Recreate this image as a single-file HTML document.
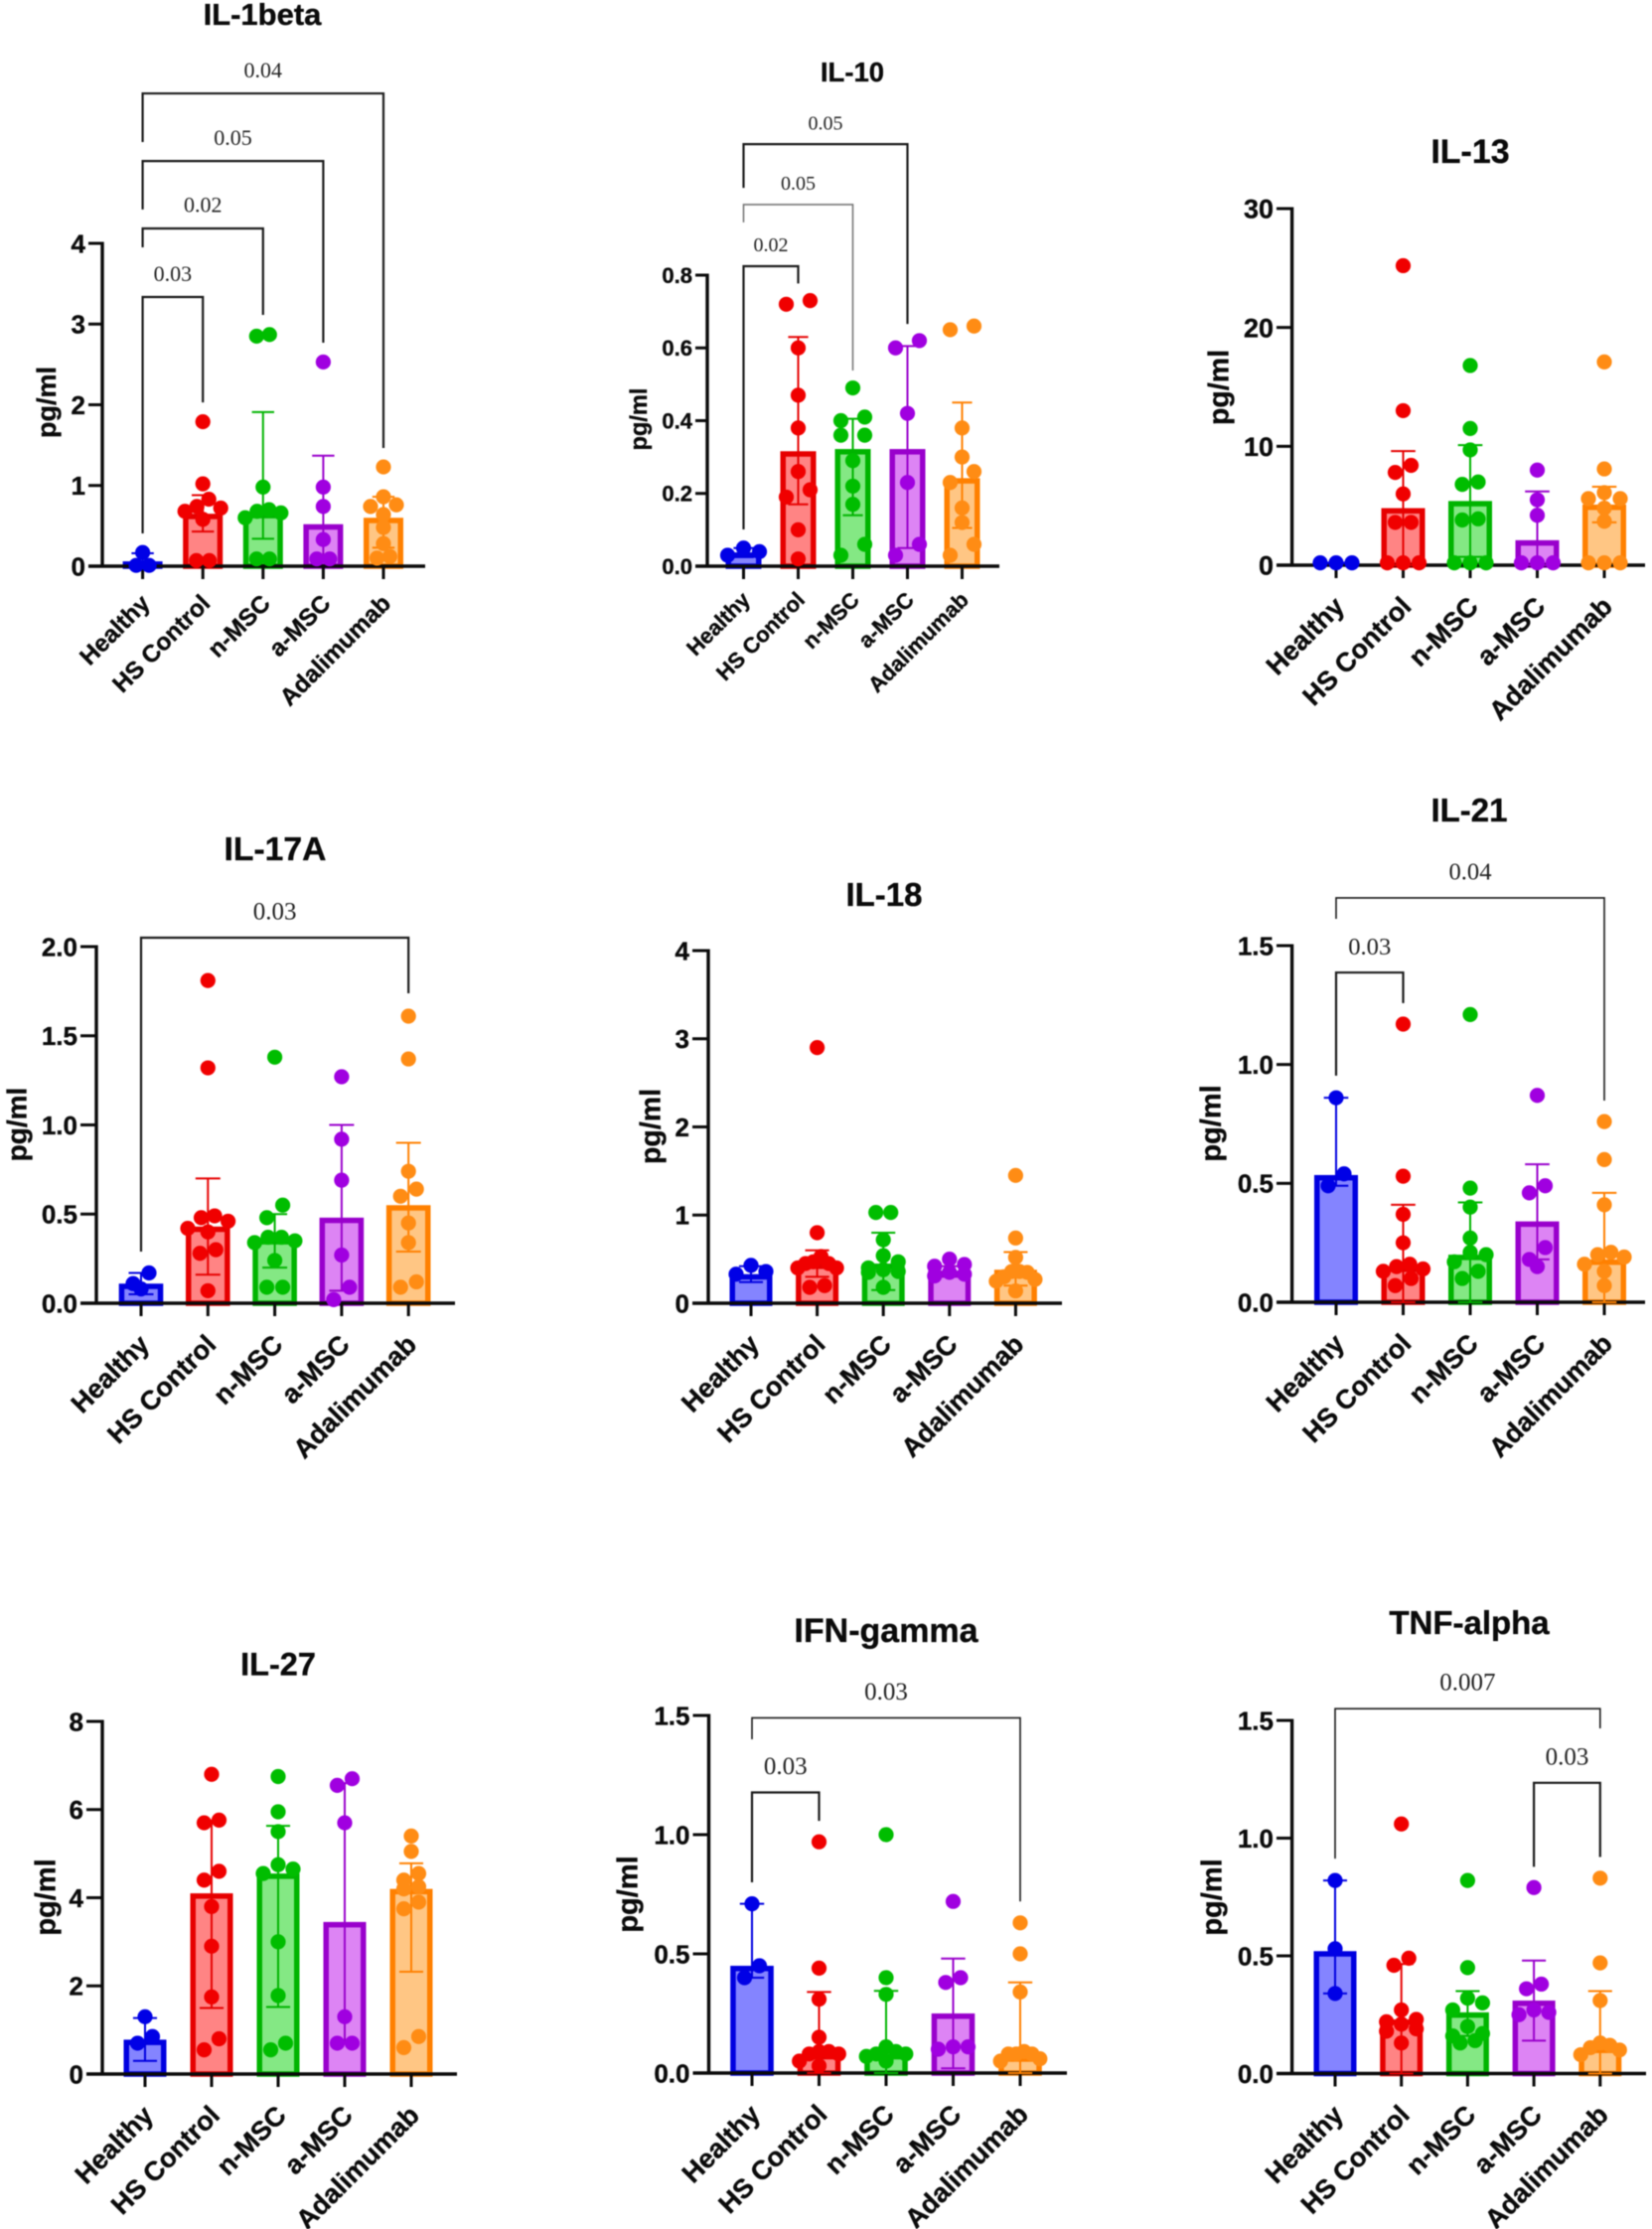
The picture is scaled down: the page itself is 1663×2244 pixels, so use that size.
<!DOCTYPE html>
<html lang="en">
<head>
<meta charset="utf-8">
<title>Cytokine levels by treatment group</title>
<style>
html,body{margin:0;padding:0;background:#fff;}
body{width:1663px;height:2244px;overflow:hidden;}
svg{display:block;filter:blur(0.45px);}
text{font-family:"Liberation Sans",sans-serif;font-weight:bold;fill:#0a0a0a;stroke:#0a0a0a;stroke-width:0.35px;}
text.p{font-family:"Liberation Serif",serif;font-weight:normal;fill:#222;stroke:none;}
</style>
</head>
<body>
<svg id="figure" xmlns="http://www.w3.org/2000/svg" width="1663" height="2244" viewBox="0 0 1663 2244"></svg>
<script>
// ---------- shared categories ----------
const categories = ['Healthy', 'HS Control', 'n-MSC', 'a-MSC', 'Adalimumab'];

// ---------- IL-1beta ----------
const il1betaTicks = ['0', '1', '2', '3', '4'];
const il1betaMeans = [0.06, 0.65, 0.66, 0.52, 0.6];
const il1betaErrLow = [0, 0.43, 0.34, 0.08, 0.23];
const il1betaErrHigh = [0.16, 0.88, 1.91, 1.37, 0.86];
const il1betaHealthy = [0.17, 0.01, 0.01];
const il1betaHs = [1.79, 1.02, 0.83, 0.74, 0.72, 0.68, 0.58, 0.07, 0.07];
const il1betaN = [2.87, 2.85, 0.98, 0.7, 0.68, 0.66, 0.6, 0.09, 0.09];
const il1betaA = [2.53, 0.98, 0.74, 0.33, 0.09, 0.09];
const il1betaAda = [1.23, 0.86, 0.76, 0.74, 0.64, 0.48, 0.28, 0.12, 0.1];
const il1betaBrackets = [
  {from: 0, to: 1, top: 3.335, leftEnd: 0.406, rightEnd: 2.03, p: '0.03'},
  {from: 0, to: 2, top: 4.185, leftEnd: 3.951, rightEnd: 3.114, p: '0.02'},
  {from: 0, to: 3, top: 5.02, leftEnd: 4.42, rightEnd: 2.77, p: '0.05'},
  {from: 0, to: 4, top: 5.858, leftEnd: 5.255, rightEnd: 1.465, p: '0.04'}
];

// ---------- IL-10 ----------
const il10Ticks = ['0.0', '0.2', '0.4', '0.6', '0.8'];
const il10Means = [0.038, 0.316, 0.322, 0.322, 0.242];
const il10ErrLow = [0.025, 0.17, 0.14, 0.05, 0.105];
const il10ErrHigh = [0.05, 0.63, 0.405, 0.605, 0.45];
const il10Healthy = [0.05, 0.04, 0.03];
const il10Hs = [0.73, 0.72, 0.6, 0.47, 0.38, 0.26, 0.21, 0.19, 0.1, 0.02];
const il10N = [0.49, 0.41, 0.4, 0.36, 0.36, 0.29, 0.22, 0.17, 0.06, 0.03];
const il10A = [0.62, 0.6, 0.42, 0.23, 0.06, 0.03];
const il10Ada = [0.66, 0.65, 0.38, 0.3, 0.26, 0.23, 0.16, 0.12, 0.06, 0.03];
const il10Brackets = [
  {from: 0, to: 1, top: 0.8246, leftEnd: 0.101, rightEnd: 0.777, p: '0.02'},
  {from: 0, to: 2, top: 0.994, leftEnd: 0.945, rightEnd: 0.538, p: '0.05', light: true},
  {from: 0, to: 3, top: 1.16, leftEnd: 1.04, rightEnd: 0.666, p: '0.05'}
];

// ---------- IL-13 ----------
const il13Ticks = ['0', '10', '20', '30'];
const il13Means = [0.2, 4.8, 5.4, 2.1, 5.1];
const il13ErrLow = [0.2, 0, 0.7, 0, 3.6];
const il13ErrHigh = [0.2, 9.6, 10.1, 6.2, 6.6];
const il13Healthy = [0.2, 0.2, 0.2];
const il13Hs = [25.2, 13, 8.4, 7.8, 6, 3.6, 3.6, 0.2, 0.2, 0.2];
const il13N = [16.8, 11.5, 9.7, 7, 6.8, 3.9, 3.8, 0.2, 0.2, 0.2];
const il13A = [8, 5.5, 4.2, 0.2, 0.2, 0.2];
const il13Ada = [17.1, 8.1, 6.1, 5.6, 5.6, 4.8, 3.7, 0.2, 0.2, 0.2];
const il13Brackets = [];

// ---------- IL-17A ----------
const il17aTicks = ['0.0', '0.5', '1.0', '1.5', '2.0'];
const il17aMeans = [0.11, 0.43, 0.36, 0.48, 0.55];
const il17aErrLow = [0.05, 0.16, 0.2, 0.07, 0.29];
const il17aErrHigh = [0.17, 0.7, 0.5, 1, 0.9];
const il17aHealthy = [0.17, 0.11, 0.08];
const il17aHs = [1.81, 1.32, 0.49, 0.48, 0.46, 0.42, 0.4, 0.3, 0.28, 0.07];
const il17aN = [1.38, 0.55, 0.48, 0.37, 0.37, 0.35, 0.34, 0.24, 0.09, 0.09];
const il17aA = [1.27, 0.92, 0.69, 0.27, 0.09, 0.02];
const il17aAda = [1.61, 1.37, 0.74, 0.64, 0.6, 0.45, 0.34, 0.12, 0.09];
const il17aBrackets = [
  {from: 0, to: 4, top: 2.05, leftEnd: 0.29, rightEnd: 1.738, p: '0.03'}
];

// ---------- IL-18 ----------
const il18Ticks = ['0', '1', '2', '3', '4'];
const il18Means = [0.33, 0.45, 0.45, 0.37, 0.38];
const il18ErrLow = [0.24, 0.3, 0.15, 0.3, 0.2];
const il18ErrHigh = [0.42, 0.6, 0.8, 0.42, 0.58];
const il18Healthy = [0.43, 0.36, 0.33];
const il18Hs = [2.9, 0.8, 0.53, 0.47, 0.45, 0.45, 0.4, 0.4, 0.2, 0.18];
const il18N = [1.03, 1.03, 0.72, 0.54, 0.47, 0.4, 0.38, 0.36, 0.35, 0.18];
const il18A = [0.5, 0.44, 0.42, 0.35, 0.33, 0.31];
const il18Ada = [1.45, 0.74, 0.52, 0.36, 0.36, 0.35, 0.3, 0.27, 0.25, 0.14];
const il18Brackets = [];

// ---------- IL-21 ----------
const il21Ticks = ['0.0', '0.5', '1.0', '1.5'];
const il21Means = [0.535, 0.15, 0.2, 0.34, 0.18];
const il21ErrLow = [0.49, 0, 0, 0.18, 0];
const il21ErrHigh = [0.86, 0.41, 0.42, 0.58, 0.46];
const il21Healthy = [0.86, 0.54, 0.49];
const il21Hs = [1.17, 0.53, 0.37, 0.25, 0.16, 0.15, 0.14, 0.13, 0.1, 0.07];
const il21N = [1.21, 0.48, 0.4, 0.27, 0.21, 0.2, 0.17, 0.13, 0.1];
const il21A = [0.87, 0.49, 0.46, 0.23, 0.18, 0.15];
const il21Ada = [0.76, 0.6, 0.41, 0.21, 0.2, 0.19, 0.16, 0.13, 0.07];
const il21Brackets = [
  {from: 0, to: 1, top: 1.387, leftEnd: 0.953, rightEnd: 1.258, p: '0.03'},
  {from: 0, to: 4, top: 1.701, leftEnd: 1.613, rightEnd: 0.848, p: '0.04', thin: true}
];

// ---------- IL-27 ----------
const il27Ticks = ['0', '2', '4', '6', '8'];
const il27Means = [0.78, 4.1, 4.55, 3.45, 4.2];
const il27ErrLow = [0.3, 1.5, 1.52, 0.7, 2.32];
const il27ErrHigh = [1.27, 5.75, 5.63, 6.6, 4.78];
const il27Healthy = [1.3, 0.85, 0.7];
const il27Hs = [6.8, 5.76, 5.7, 4.6, 4.4, 3.8, 2.9, 1.75, 0.8, 0.55];
const il27N = [6.75, 5.95, 5.5, 4.75, 4.65, 4.55, 3, 1.78, 0.7, 0.55];
const il27A = [6.7, 6.55, 5.7, 1.3, 0.7, 0.7];
const il27Ada = [5.4, 5.05, 4.55, 4.4, 4.25, 4.2, 3.9, 3.75, 0.85, 0.6];
const il27Brackets = [];

// ---------- IFN-gamma ----------
const ifnTicks = ['0.0', '0.5', '1.0', '1.5'];
const ifnMeans = [0.45, 0.08, 0.08, 0.25, 0.07];
const ifnErrLow = [0.4, 0, 0, 0.02, 0];
const ifnErrHigh = [0.71, 0.34, 0.345, 0.48, 0.38];
const ifnHealthy = [0.71, 0.45, 0.4];
const ifnHs = [0.97, 0.44, 0.31, 0.15, 0.09, 0.09, 0.08, 0.08, 0.05, 0.03];
const ifnN = [1, 0.4, 0.33, 0.11, 0.09, 0.08, 0.08, 0.07, 0.05];
const ifnA = [0.72, 0.4, 0.38, 0.11, 0.11, 0.1];
const ifnAda = [0.63, 0.5, 0.34, 0.09, 0.08, 0.08, 0.08, 0.06, 0.05];
const ifnBrackets = [
  {from: 0, to: 1, top: 1.177, leftEnd: 0.8, rightEnd: 1.058, p: '0.03'},
  {from: 0, to: 4, top: 1.49, leftEnd: 1.4, rightEnd: 0.72, p: '0.03', thin: true}
];

// ---------- TNF-alpha ----------
const tnfTicks = ['0.0', '0.5', '1.0', '1.5'];
const tnfMeans = [0.52, 0.23, 0.26, 0.31, 0.11];
const tnfErrLow = [0.34, 0, 0.16, 0.14, 0];
const tnfErrHigh = [0.82, 0.465, 0.35, 0.48, 0.35];
const tnfHealthy = [0.82, 0.53, 0.34];
const tnfHs = [1.06, 0.49, 0.46, 0.27, 0.23, 0.22, 0.21, 0.19, 0.18, 0.13];
const tnfN = [0.82, 0.45, 0.32, 0.3, 0.27, 0.2, 0.17, 0.16, 0.14, 0.13];
const tnfA = [0.79, 0.38, 0.36, 0.27, 0.26, 0.25];
const tnfAda = [0.83, 0.47, 0.31, 0.13, 0.12, 0.11, 0.1, 0.08];
const tnfBrackets = [
  {from: 0, to: 4, top: 1.55, leftEnd: 0.913, rightEnd: 1.466, p: '0.007', thin: true},
  {from: 3, to: 4, top: 1.235, leftEnd: 0.878, rightEnd: 0.92, p: '0.03'}
];

// ---------- styling per category ----------
const strokeColors = ['#0000e0', '#e60000', '#00b400', '#9900cc', '#ff8000'];
const fillColors = ['#8484ff', '#ff8484', '#84e884', '#dd84f4', '#ffc684'];
const dotColors = ['#0000e6', '#f00000', '#00bd00', '#a000e0', '#ff8c14'];

// ---------- panels: data references + placement on the page ----------
const panels = [
  {slug: 'il-1beta', title: 'IL-1beta', ticks: il1betaTicks, means: il1betaMeans, low: il1betaErrLow, high: il1betaErrHigh,
   points: [il1betaHealthy, il1betaHs, il1betaN, il1betaA, il1betaAda], brackets: il1betaBrackets,
   axisX: 103, top: 245, base: 570, first: 143.6, step: 60.6, barW: 40, right: 428, tickLeft: 89,
   titleX: 264, titleY: 14, titleSize: 31, yLabelX: 48, yLabelY: 405, yLabelSize: 27, tickSize: 26, xSize: 24.3, pSize: 22, spread: 13},
  {slug: 'il-10', title: 'IL-10', ticks: il10Ticks, means: il10Means, low: il10ErrLow, high: il10ErrHigh,
   points: [il10Healthy, il10Hs, il10N, il10A, il10Ada], brackets: il10Brackets,
   axisX: 712, top: 277, base: 570, first: 748.5, step: 55, barW: 36, right: 1006, tickLeft: 700,
   titleX: 858, titleY: 72, titleSize: 27.5, yLabelX: 644, yLabelY: 422, yLabelSize: 23.6, tickSize: 22, xSize: 22, pSize: 20, spread: 24},
  {slug: 'il-13', title: 'IL-13', ticks: il13Ticks, means: il13Means, low: il13ErrLow, high: il13ErrHigh,
   points: [il13Healthy, il13Hs, il13N, il13A, il13Ada], brackets: il13Brackets,
   axisX: 1300.6, top: 210, base: 569, first: 1345, step: 67.5, barW: 44, right: 1656, tickLeft: 1285,
   titleX: 1480, titleY: 152, titleSize: 34, yLabelX: 1228, yLabelY: 390, yLabelSize: 28.5, tickSize: 27, xSize: 27, pSize: 25, spread: 16},
  {slug: 'il-17a', title: 'IL-17A', ticks: il17aTicks, means: il17aMeans, low: il17aErrLow, high: il17aErrHigh,
   points: [il17aHealthy, il17aHs, il17aN, il17aA, il17aAda], brackets: il17aBrackets,
   axisX: 97, top: 953, base: 1312, first: 142, step: 67.3, barW: 44.6, right: 458, tickLeft: 81,
   titleX: 277, titleY: 854, titleSize: 33.7, yLabelX: 18, yLabelY: 1132, yLabelSize: 28, tickSize: 26, xSize: 27, pSize: 25, spread: 16},
  {slug: 'il-18', title: 'IL-18', ticks: il18Ticks, means: il18Means, low: il18ErrLow, high: il18ErrHigh,
   points: [il18Healthy, il18Hs, il18N, il18A, il18Ada], brackets: il18Brackets,
   axisX: 713, top: 957, base: 1312, first: 756, step: 66.6, barW: 43, right: 1069, tickLeft: 697,
   titleX: 890, titleY: 900, titleSize: 33, yLabelX: 656, yLabelY: 1134, yLabelSize: 28.5, tickSize: 26, xSize: 26.8, pSize: 25, spread: 15},
  {slug: 'il-21', title: 'IL-21', ticks: il21Ticks, means: il21Means, low: il21ErrLow, high: il21ErrHigh,
   points: [il21Healthy, il21Hs, il21N, il21A, il21Ada], brackets: il21Brackets,
   axisX: 1300.6, top: 952, base: 1311, first: 1345, step: 67.5, barW: 44, right: 1656, tickLeft: 1285,
   titleX: 1479, titleY: 815, titleSize: 33, yLabelX: 1220, yLabelY: 1131, yLabelSize: 29, tickSize: 26, xSize: 27, pSize: 24.6, spread: 16},
  {slug: 'il-27', title: 'IL-27', ticks: il27Ticks, means: il27Means, low: il27ErrLow, high: il27ErrHigh,
   points: [il27Healthy, il27Hs, il27N, il27A, il27Ada], brackets: il27Brackets,
   axisX: 103, top: 1733, base: 2088, first: 146, step: 67, barW: 43, right: 460, tickLeft: 87,
   titleX: 280, titleY: 1675, titleSize: 32.5, yLabelX: 47, yLabelY: 1910, yLabelSize: 29, tickSize: 26, xSize: 27, pSize: 25, spread: 15},
  {slug: 'ifn-gamma', title: 'IFN-gamma', ticks: ifnTicks, means: ifnMeans, low: ifnErrLow, high: ifnErrHigh,
   points: [ifnHealthy, ifnHs, ifnN, ifnA, ifnAda], brackets: ifnBrackets,
   axisX: 713.5, top: 1727, base: 2087, first: 757, step: 67.5, barW: 43.6, right: 1074, tickLeft: 697.5,
   titleX: 892, titleY: 1641, titleSize: 34, yLabelX: 633, yLabelY: 1907, yLabelSize: 29, tickSize: 26, xSize: 27, pSize: 25, spread: 15},
  {slug: 'tnf-alpha', title: 'TNF-alpha', ticks: tnfTicks, means: tnfMeans, low: tnfErrLow, high: tnfErrHigh,
   points: [tnfHealthy, tnfHs, tnfN, tnfA, tnfAda], brackets: tnfBrackets,
   axisX: 1300.6, top: 1732, base: 2087.5, first: 1344, step: 66.7, barW: 43, right: 1657, tickLeft: 1285,
   titleX: 1479, titleY: 1633, titleSize: 33, yLabelX: 1221, yLabelY: 1910, yLabelSize: 29, tickSize: 26, xSize: 27, pSize: 25, spread: 15}
];

const SVG_NS = 'http://www.w3.org/2000/svg';
const figure = document.getElementById('figure');

function shape(tag, parent, attrs) {
  const el = document.createElementNS(SVG_NS, tag);
  for (const key in attrs) el.setAttribute(key, attrs[key]);
  parent.appendChild(el);
  return el;
}

// Swarm layout: points in the same y bin share a row, centred on the category.
function swarm(values, yScale, spread, halfWidth) {
  const order = values.map(function (v, i) { return i; }).sort(function (a, b) { return values[b] - values[a]; });
  const offsets = new Array(values.length).fill(0);
  let i = 0;
  while (i < order.length) {
    let j = i + 1;
    while (j < order.length && Math.abs(yScale(values[order[j]]) - yScale(values[order[i]])) < 13) j++;
    const n = j - i;
    const gap = n > 1 ? Math.min(spread, 2 * halfWidth / (n - 1)) : 0;
    const slots = [];
    for (let k = 0; k < n; k++) slots.push((k - (n - 1) / 2) * gap);
    slots.sort(function (a, b) { return Math.abs(a) - Math.abs(b) || b - a; });
    for (let k = 0; k < n; k++) offsets[order[i + k]] = slots[k];
    i = j;
  }
  return offsets;
}

function drawPanel(p) {
  const tickValues = p.ticks.map(parseFloat);
  const maxValue = tickValues[tickValues.length - 1];
  const y = function (v) { return p.base - (v / maxValue) * (p.base - p.top); };
  const x = function (i) { return p.first + i * p.step; };

  const g = shape('g', figure, {});
  
  

  const title = shape('text', g, {x: p.titleX, y: p.titleY, dy: '.36em', 'text-anchor': 'middle', 'font-size': p.titleSize});
  title.textContent = p.title;
  
  

  const yLabel = shape('text', g, {transform: 'translate(' + p.yLabelX + ' ' + p.yLabelY + ') rotate(-90)', dy: '.3em', 'text-anchor': 'middle', 'font-size': p.yLabelSize});
  yLabel.textContent = 'pg/ml';
  
  

  // bars
  p.means.forEach(function (mean, i) {
    const inset = 2.75;
    const bar = shape('rect', g, {
      x: x(i) - p.barW / 2 + inset, y: y(mean) + inset,
      width: p.barW - 2 * inset, height: Math.max(0, p.base - y(mean) - inset),
      fill: fillColors[i], stroke: strokeColors[i], 'stroke-width': 5.5
    });
    
    
  });

  // axes
  const yAxis = shape('line', g, {x1: p.axisX, x2: p.axisX, y1: y(maxValue) - 1.5, y2: p.base + 1.5, stroke: '#0a0a0a', 'stroke-width': 3.4});
  
  
  const xAxis = shape('line', g, {x1: p.tickLeft, x2: p.right, y1: p.base, y2: p.base, stroke: '#0a0a0a', 'stroke-width': 3.4});
  
  

  // y ticks
  p.ticks.forEach(function (label, i) {
    const v = tickValues[i];
    const tick = shape('line', g, {x1: p.tickLeft, x2: p.axisX, y1: y(v), y2: y(v), stroke: '#0a0a0a', 'stroke-width': 3});
    
    
    const text = shape('text', g, {x: p.tickLeft - 3, y: y(v), dy: '.36em', 'text-anchor': 'end', 'font-size': p.tickSize});
    text.textContent = label;
    
    
  });

  // x ticks and labels
  categories.forEach(function (name, i) {
    const tick = shape('line', g, {x1: x(i), x2: x(i), y1: p.base, y2: p.base + 13, stroke: '#0a0a0a', 'stroke-width': 3});
    
    
    const ax = x(i) + 0.36 * p.xSize;
    const ay = p.base + 1.6 * p.xSize;
    const text = shape('text', g, {x: ax, y: ay, transform: 'rotate(-45 ' + ax + ' ' + ay + ')', 'text-anchor': 'end', 'font-size': p.xSize});
    text.textContent = name;
    
    
  });

  // error bars
  p.means.forEach(function (mean, i) {
    const capHalf = p.barW * 0.28;
    const stem = shape('line', g, {x1: x(i), x2: x(i), y1: y(p.high[i]), y2: y(p.low[i]), stroke: strokeColors[i], 'stroke-width': 2});
    
    
    [p.high[i], p.low[i]].forEach(function (value) {
      const cap = shape('line', g, {x1: x(i) - capHalf, x2: x(i) + capHalf, y1: y(value), y2: y(value), stroke: strokeColors[i], 'stroke-width': 2});
      
      
    });
  });

  // data points
  p.points.forEach(function (values, i) {
    const offsets = swarm(values, y, p.spread, p.barW / 2 - 2);
    values.forEach(function (value, k) {
      const dot = shape('circle', g, {cx: x(i) + offsets[k], cy: y(value), r: 7.6, fill: dotColors[i]});
      
      
    });
  });

  // significance brackets
  p.brackets.forEach(function (b) {
    const x1 = x(b.from), x2 = x(b.to), top = y(b.top);
    const path = shape('path', g, {
      d: 'M' + x1 + ' ' + y(b.leftEnd) + 'V' + top + 'H' + x2 + 'V' + y(b.rightEnd),
      fill: 'none',
      stroke: b.light ? '#777' : '#1a1a1a',
      'stroke-width': (b.thin || b.light) ? 1.6 : 2.2
    });
    
    
    const label = shape('text', g, {x: (x1 + x2) / 2, y: top - p.pSize * 1.1, dy: '.36em', 'text-anchor': 'middle', 'font-size': p.pSize, 'class': 'p'});
    label.textContent = b.p;
    
    
  });
}

panels.forEach(drawPanel);
</script>
</body>
</html>
